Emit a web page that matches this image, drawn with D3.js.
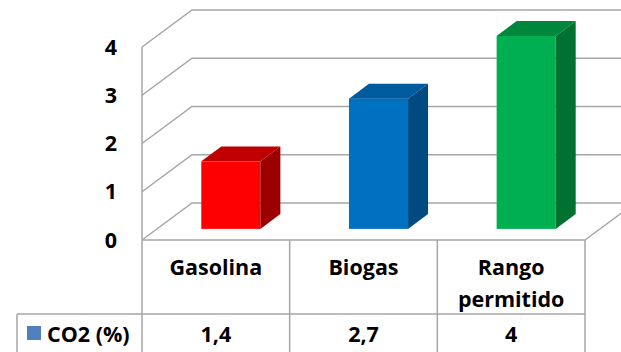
<!DOCTYPE html>
<html>
<head>
<meta charset="utf-8">
<script src="https://cdn.jsdelivr.net/npm/d3@7"></script>
<style>
  html, body { margin: 0; padding: 0; background: #fff; }
  svg { display: block; font-family: "Open Sans", Lato, sans-serif; font-weight: bold; }
</style>
</head>
<body>
<svg id="chart" width="621" height="352"></svg>
<script>
// chart values
const categories = ["Gasolina", "Biogas", "Rango permitido"];
const categoryLines = [["Gasolina"], ["Biogas"], ["Rango", "permitido"]];
const co2Values = [1.4, 2.7, 4];
const valueLabels = ["1,4", "2,7", "4"];
const yTicks = [0, 1, 2, 3, 4];
const seriesName = "CO2 (%)";
const frontColors = ["#ff0000", "#0070c0", "#00b050"];
const topColors = ["#c00000", "#005a9e", "#00873e"];
const sideColors = ["#9c0000", "#004a82", "#007130"];

const svg = d3.select("#chart");
const plot = { left: 142, right: 585, top: 47, bottom: 240 };
const depth = { dx: 50, dy: -37 };  // 3d offset front -> back wall
const gridColor = "#a6a6a6";
const fontSize = 21.5;

const x = d3.scaleBand().domain(categories).range([plot.left, plot.right]);
const y = d3.scaleLinear().domain([0, 4]).range([plot.bottom, plot.top]);

const grid = svg.append("g");

// side wall diagonals + back wall gridlines
yTicks.forEach((t) => {
  grid.append("path")
    .attr("d", `M${plot.left},${y(t)} L${plot.left + depth.dx},${y(t) + depth.dy} L${plot.right + depth.dx},${y(t) + depth.dy}`)
    .attr("fill", "none")
    .attr("stroke", gridColor)
    .attr("stroke-width", 1.5);
});
// front vertical edge of the wall
grid.append("line")
  .attr("x1", plot.left).attr("x2", plot.left)
  .attr("y1", y(4)).attr("y2", y(0))
  .attr("stroke", gridColor).attr("stroke-width", 1.5);
// floor right edge
grid.append("line")
  .attr("x1", plot.right).attr("y1", y(0))
  .attr("x2", plot.right + depth.dx).attr("y2", y(0) + depth.dy)
  .attr("stroke", gridColor).attr("stroke-width", 1.5);

// y tick labels
svg.append("g")
  .selectAll("text")
  .data(yTicks)
  .join("text")
  .attr("x", 117)
  .attr("y", (d) => y(d))
  .attr("dy", "0.36em")
  .attr("text-anchor", "end")
  .attr("font-size", fontSize)
  .text((d) => d);

// bars as boxes
const barW = x.bandwidth() * 0.4;
const z0 = 0.3, z1 = 0.7; // bar depth inside the floor
const bars = svg.append("g")
  .selectAll("g")
  .data(co2Values)
  .join("g");

bars.each(function (v, i) {
  const g = d3.select(this);
  const fx = x(categories[i]) + (x.bandwidth() - barW) / 2 + z0 * depth.dx;
  const fy0 = y(0) + z0 * depth.dy;
  const fy1 = y(v) + z0 * depth.dy;
  const ox = (z1 - z0) * depth.dx, oy = (z1 - z0) * depth.dy;
  g.append("rect")
    .attr("x", fx).attr("y", fy1)
    .attr("width", barW).attr("height", fy0 - fy1)
    .attr("fill", frontColors[i]);
  g.append("path")
    .attr("d", `M${fx},${fy1} L${fx + ox},${fy1 + oy} L${fx + barW + ox},${fy1 + oy} L${fx + barW},${fy1} Z`)
    .attr("fill", topColors[i]);
  g.append("path")
    .attr("d", `M${fx + barW},${fy1} L${fx + barW + ox},${fy1 + oy} L${fx + barW + ox},${fy0 + oy} L${fx + barW},${fy0} Z`)
    .attr("fill", sideColors[i]);
});

// data table
const table = svg.append("g");
const rowSplit = 314, tableBottom = 356, legendLeft = 17;
const lineColor = "#a6a6a6";
const tl = (x1, y1, x2, y2) => table.append("line")
  .attr("x1", x1).attr("y1", y1).attr("x2", x2).attr("y2", y2)
  .attr("stroke", lineColor).attr("stroke-width", 1.5);

tl(plot.left, plot.bottom, plot.right, plot.bottom);
tl(legendLeft, rowSplit, plot.right, rowSplit);
tl(legendLeft, rowSplit, legendLeft, tableBottom);
tl(plot.right, plot.bottom, plot.right, tableBottom);
categories.forEach((c) => tl(x(c), plot.bottom, x(c), tableBottom));

// category header cells
table.selectAll("text.cat")
  .data(categoryLines)
  .join("text")
  .attr("class", "cat")
  .attr("text-anchor", "middle")
  .attr("font-size", fontSize)
  .each(function (lines, i) {
    const cx = x(categories[i]) + x.bandwidth() / 2;
    d3.select(this).selectAll("tspan")
      .data(lines)
      .join("tspan")
      .attr("x", cx)
      .attr("y", (d, j) => 275 + j * 32)
      .text((d) => d);
  });

// value row
table.selectAll("text.val")
  .data(valueLabels)
  .join("text")
  .attr("class", "val")
  .attr("x", (d, i) => x(categories[i]) + x.bandwidth() / 2)
  .attr("y", 342)
  .attr("text-anchor", "middle")
  .attr("font-size", fontSize)
  .text((d) => d);

// legend key
table.append("rect")
  .attr("x", 27).attr("y", 326).attr("width", 14).attr("height", 14)
  .attr("fill", "#4f81bd");
table.append("text")
  .attr("x", 47).attr("y", 342)
  .attr("font-size", fontSize)
  .text(seriesName);
</script>
</body>
</html>
